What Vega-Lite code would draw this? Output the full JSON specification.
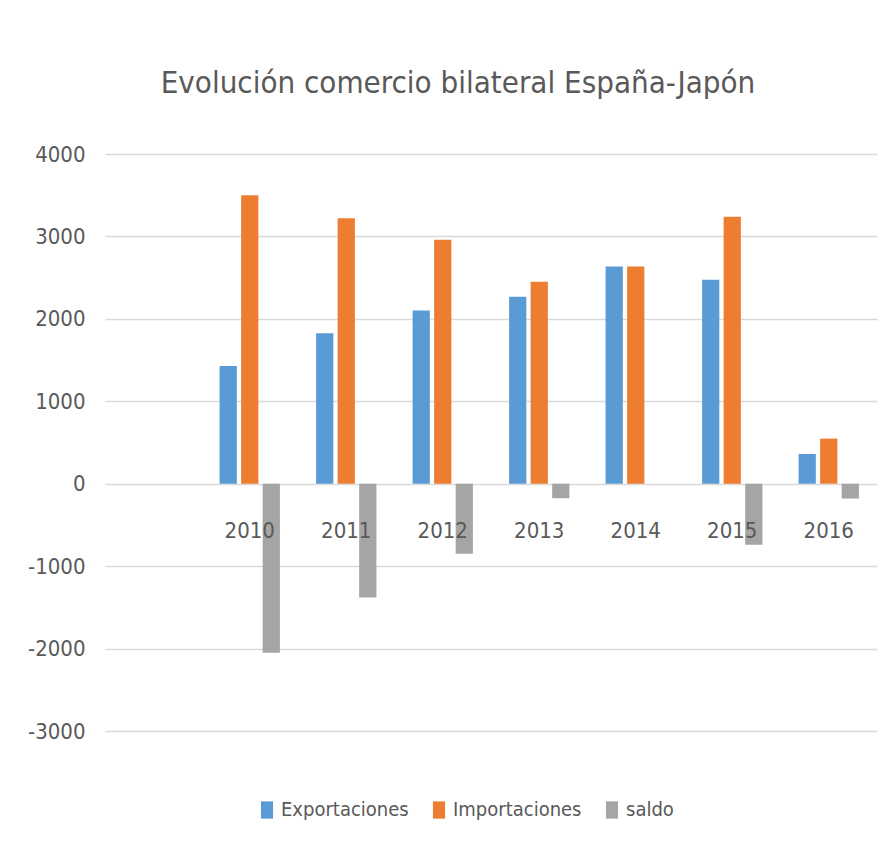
{
  "$schema": "https://vega.github.io/schema/vega-lite/v6.json",
  "width": 772,
  "height": 577,
  "autosize": "none",
  "padding": {"left": 105, "top": 154, "right": 12, "bottom": 132},
  "background": "white",
  "title": {
    "text": "Evolución comercio bilateral España-Japón",
    "font": "DejaVu Sans Condensed, sans-serif",
    "fontSize": 31,
    "fontWeight": "normal",
    "color": "#595959",
    "anchor": "middle",
    "baseline": "alphabetic",
    "offset": 19,
    "dx": -33
  },
  "data": {
    "values": [
      {"year": "2010", "serie": "Exportaciones", "value": 1427},
      {"year": "2010", "serie": "Importaciones", "value": 3500},
      {"year": "2010", "serie": "saldo", "value": -2050},
      {"year": "2011", "serie": "Exportaciones", "value": 1825},
      {"year": "2011", "serie": "Importaciones", "value": 3220},
      {"year": "2011", "serie": "saldo", "value": -1380},
      {"year": "2012", "serie": "Exportaciones", "value": 2101},
      {"year": "2012", "serie": "Importaciones", "value": 2960},
      {"year": "2012", "serie": "saldo", "value": -850},
      {"year": "2013", "serie": "Exportaciones", "value": 2267},
      {"year": "2013", "serie": "Importaciones", "value": 2449},
      {"year": "2013", "serie": "saldo", "value": -176},
      {"year": "2014", "serie": "Exportaciones", "value": 2636},
      {"year": "2014", "serie": "Importaciones", "value": 2636},
      {"year": "2014", "serie": "saldo", "value": 0},
      {"year": "2015", "serie": "Exportaciones", "value": 2474},
      {"year": "2015", "serie": "Importaciones", "value": 3240},
      {"year": "2015", "serie": "saldo", "value": -740},
      {"year": "2016", "serie": "Exportaciones", "value": 361},
      {"year": "2016", "serie": "Importaciones", "value": 547},
      {"year": "2016", "serie": "saldo", "value": -180}
    ]
  },
  "mark": {"type": "bar"},
  "encoding": {
    "x": {
      "field": "year",
      "type": "nominal",
      "scale": {"domain": ["", "2010", "2011", "2012", "2013", "2014", "2015", "2016"], "paddingInner": 0.375, "paddingOuter": 0.1875},
      "axis": {
        "title": null,
        "orient": "bottom",
        "offset": -246,
        "domain": false,
        "ticks": false,
        "grid": false,
        "labelAngle": 0,
        "labelPadding": 35,
        "labelFont": "DejaVu Sans Condensed, sans-serif",
        "labelFontSize": 22,
        "labelColor": "#595959",
        "zindex": 1
      }
    },
    "xOffset": {
      "field": "serie",
      "type": "nominal",
      "scale": {"domain": ["Exportaciones", "Importaciones", "saldo"], "paddingInner": 0.2, "paddingOuter": 0}
    },
    "y": {
      "field": "value",
      "type": "quantitative",
      "scale": {"domain": [-3000, 4000], "nice": false},
      "axis": {
        "title": null,
        "values": [-3000, -2000, -1000, 0, 1000, 2000, 3000, 4000],
        "labelExpr": "'' + datum.value",
        "domain": false,
        "ticks": false,
        "grid": true,
        "gridColor": "#D9D9D9",
        "gridWidth": 1.5,
        "labelPadding": 20,
        "labelFont": "DejaVu Sans Condensed, sans-serif",
        "labelFontSize": 22,
        "labelColor": "#595959"
      }
    },
    "color": {
      "field": "serie",
      "type": "nominal",
      "scale": {"domain": ["Exportaciones", "Importaciones", "saldo"], "range": ["#5B9BD5", "#ED7D31", "#A5A5A5"]},
      "legend": {
        "title": null,
        "orient": "none",
        "direction": "horizontal",
        "legendX": 152,
        "legendY": 646,
        "symbolType": "M-0.7,-1H0.7V1H-0.7Z",
        "symbolSize": 300,
        "symbolStrokeWidth": 0,
        "symbolOpacity": 1,
        "labelFont": "DejaVu Sans Condensed, sans-serif",
        "labelFontSize": 20,
        "labelLimit": 0,
        "labelColor": "#595959",
        "labelOffset": 4,
        "columnPadding": 20
      }
    }
  },
  "config": {
    "view": {"stroke": null}
  }
}
